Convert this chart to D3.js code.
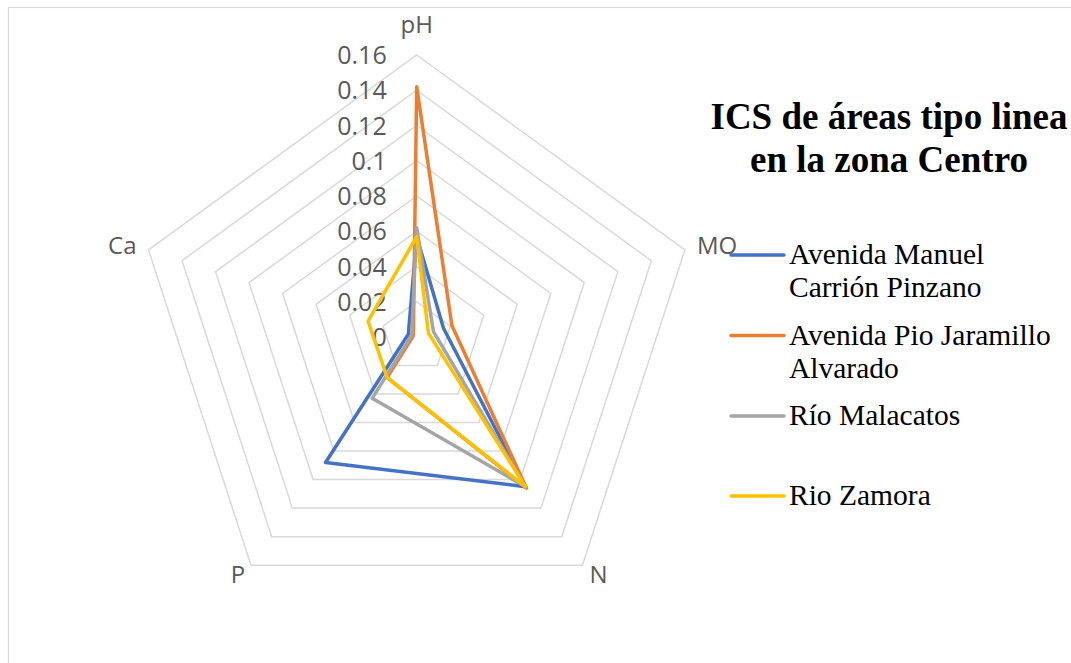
<!DOCTYPE html>
<html>
<head>
<meta charset="utf-8">
<script src="https://cdn.jsdelivr.net/npm/d3@7"></script>
<style>
  html, body { margin: 0; padding: 0; background: #fff; }
  svg { display: block; }
</style>
</head>
<body>
<svg id="chart" width="1071" height="663"></svg>
<script>
// Soil quality index (ICS) per parameter, line-type areas, Centro zone
const axes = ["pH", "MO", "N", "P", "Ca"];
const ticks = [0, 0.02, 0.04, 0.06, 0.08, 0.1, 0.12, 0.14, 0.16];
const tickLabels = ["0", "0.02", "0.04", "0.06", "0.08", "0.1", "0.12", "0.14", "0.16"];

const seriesNames = [
  ["Avenida Manuel", "Carrión Pinzano"],
  ["Avenida Pio Jaramillo", "Alvarado"],
  ["Río Malacatos"],
  ["Rio Zamora"]
];
const avManuel   = [0.057, 0.016, 0.105, 0.088, 0.005];
const avPio      = [0.142, 0.021, 0.106, 0.0285, 0.002];
const rioMalac   = [0.062, 0.010, 0.105, 0.043, 0.003];
const rioZamora  = [0.057, 0.007, 0.105, 0.0285, 0.029];
const seriesValues = [avManuel, avPio, rioMalac, rioZamora];
const colors = ["#4472C4", "#ED7D31", "#A5A5A5", "#FFC000"];

const svg = d3.select("#chart");

// chart frame
svg.append("rect")
  .attr("x", 8.5).attr("y", 7.5)
  .attr("width", 1100).attr("height", 700)
  .attr("fill", "none").attr("stroke", "#D9D9D9").attr("stroke-width", 1.2);

const cx = 416.7, cy = 337;
const r = d3.scaleLinear().domain([0, 0.16]).range([0, 282]);
const angle = d3.scalePoint().domain(axes).range([0, 2 * Math.PI * (axes.length - 1) / axes.length]);

const g = svg.append("g").attr("transform", `translate(${cx},${cy})`);

// concentric pentagon gridlines
const ring = d3.lineRadial().curve(d3.curveLinearClosed);
g.append("g").selectAll("path")
  .data(ticks.filter(t => t > 0))
  .join("path")
  .attr("d", t => ring(axes.map(a => [angle(a), r(t)])))
  .attr("fill", "none")
  .attr("stroke", "#D9D9D9")
  .attr("stroke-width", 1.5);

// value labels along the pH axis
g.append("g").selectAll("text")
  .data(ticks)
  .join("text")
  .attr("x", -30)
  .attr("y", t => -r(t))
  .attr("dy", "0.36em")
  .attr("text-anchor", "end")
  .attr("font-family", "'Open Sans', 'Noto Sans', sans-serif")
  .attr("font-size", 25)
  .attr("fill", "#595959")
  .text((t, i) => tickLabels[i]);

// category labels at the outer vertices
const rMax = r(0.16);
g.append("g").selectAll("text")
  .data(axes)
  .join("text")
  .each(function (a) {
    const th = angle(a);
    const vx = rMax * Math.sin(th), vy = -rMax * Math.cos(th);
    const s = Math.sin(th), c = Math.cos(th);
    let x = vx, y = vy, anchor = "middle";
    if (Math.abs(s) < 0.1) { y = vy - 22; }
    else if (c > 0) { anchor = s > 0 ? "start" : "end"; x = vx + 12 * Math.sign(s); y = vy + 4; }
    else { x = vx + (s > 0 ? 16 : -13); y = vy + 18; }
    d3.select(this)
      .attr("x", x).attr("y", y)
      .attr("text-anchor", anchor);
  })
  .attr("font-family", "'Open Sans', 'Noto Sans', sans-serif")
  .attr("font-size", 24)
  .attr("fill", "#595959")
  .text(a => a);

// series outlines
g.append("g").selectAll("path")
  .data(seriesValues)
  .join("path")
  .attr("d", vals => ring(vals.map((v, i) => [angle(axes[i]), r(v)])))
  .attr("fill", "none")
  .attr("stroke", (d, i) => colors[i])
  .attr("stroke-width", 3.5)
  .attr("stroke-linejoin", "round");

// title
svg.append("text")
  .attr("x", 889).attr("y", 129)
  .attr("text-anchor", "middle")
  .attr("font-family", "'Liberation Serif', 'Times New Roman', serif")
  .attr("font-weight", "bold")
  .attr("font-size", 37)
  .attr("fill", "#000")
  .selectAll("tspan")
  .data(["ICS de áreas tipo linea", "en la zona Centro"])
  .join("tspan")
  .attr("x", 889)
  .attr("dy", (d, i) => i === 0 ? 0 : 43)
  .text(d => d);

// legend
const legendY = [255, 335.5, 416, 496];
const leg = svg.append("g");
seriesNames.forEach((lines, i) => {
  leg.append("line")
    .attr("x1", 731).attr("x2", 784)
    .attr("y1", legendY[i]).attr("y2", legendY[i])
    .attr("stroke", colors[i]).attr("stroke-width", 3.5)
    .attr("stroke-linecap", "round");
  const t = leg.append("text")
    .attr("x", 789).attr("y", legendY[i] + 9)
    .attr("font-family", "'Liberation Serif', 'Times New Roman', serif")
    .attr("font-size", 29.5)
    .attr("fill", "#000");
  lines.forEach((s, k) => {
    t.append("tspan").attr("x", 789).attr("dy", k === 0 ? 0 : 33).text(s);
  });
});
</script>
</body>
</html>
